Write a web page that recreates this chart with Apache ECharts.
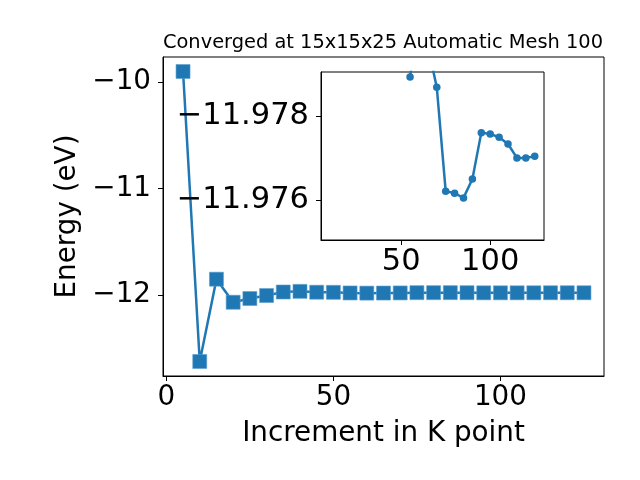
<!DOCTYPE html>
<html>
<head>
<meta charset="utf-8">
<script src="https://cdn.jsdelivr.net/npm/echarts@6/dist/echarts.min.js"></script>
<style>html,body{margin:0;padding:0;background:#fff}#c{width:640px;height:480px}</style>
</head>
<body>
<div id="c"></div>
<script>
// ---- data ----
const kPoints = [5,10,15,20,25,30,35,40,45,50,55,60,65,70,75,80,85,90,95,100,105,110,115,120,125];
const energy = [-9.904,-12.621,-11.850,-12.066,-12.031,-12.003,-11.970,-11.964,-11.972,-11.973,
  -11.97892,-11.9805,-11.97965,-11.97868,-11.97621,-11.97616,-11.97605,-11.97650,-11.97760,
  -11.97757,-11.97749,-11.97733,-11.97700,-11.97700,-11.97704];
const mainXTicks = [0,50,100];
const mainYTicks = [-12,-11,-10];
const insetXTicks = [50,100];
const insetYTicks = [-11.978,-11.976];
const insetStartIndex = 10; // inset zoom starts at 55
const titleText = 'Converged at 15x15x25 Automatic Mesh 100';
const xName = 'Increment in K point';
const yName = 'Energy (eV)';

const mainData = kPoints.map((x,i)=>[x, energy[i]]);
const insetData = kPoints.slice(insetStartIndex).map((x,i)=>[x, energy[i+insetStartIndex]]);

const FONT = 'DejaVu Sans';
const C = '#1f77b4';
const minus = s => String(s).replace('-', '\u2212');

const chart = echarts.init(document.getElementById('c'), null, {renderer:'canvas'});
const axisCommon = {
  axisLine:{show:true, onZero:false, lineStyle:{color:'#000', width:1}},
  axisTick:{show:true, inside:false, length:5, lineStyle:{color:'#000', width:1}},
  splitLine:{show:false},
};
chart.setOption({
  animation:false,
  backgroundColor:'#fff',
  title:{text:titleText, left:378, top:28, textAlign:'center',
    textStyle:{fontFamily:FONT, fontSize:19.4, fontWeight:'normal', color:'#000'}},
  grid:[
    {left:163, top:57, width:441, height:319, show:true, borderColor:'#000', borderWidth:1, backgroundColor:'#fff', outerBoundsMode:'none', containLabel:false},
    {left:321, top:72, width:223, height:168, show:true, borderColor:'#000', borderWidth:1, backgroundColor:'#fff', outerBoundsMode:'none', containLabel:false, z:3}
  ],
  xAxis:[
    Object.assign({}, axisCommon, {type:'value', gridIndex:0, min:-1, max:131,
      axisTick:Object.assign({}, axisCommon.axisTick, {customValues:mainXTicks}),
      axisLabel:{customValues:mainXTicks, margin:8, fontFamily:FONT, fontSize:27.8, color:'#000', formatter:v=>minus(v)},
      name:xName, nameLocation:'middle', nameGap:44,
      nameTextStyle:{fontFamily:FONT, fontSize:27.8, color:'#000'}}),
    Object.assign({}, axisCommon, {type:'value', gridIndex:1, min:5, max:130.2, z:5,
      axisTick:Object.assign({}, axisCommon.axisTick, {customValues:insetXTicks}),
      axisLabel:{customValues:insetXTicks, margin:7, fontFamily:FONT, fontSize:30.5, color:'#000', formatter:v=>minus(v)}})
  ],
  yAxis:[
    Object.assign({}, axisCommon, {type:'value', gridIndex:0, min:-12.757, max:-9.768,
      axisTick:Object.assign({}, axisCommon.axisTick, {customValues:mainYTicks}),
      axisLabel:{customValues:mainYTicks, margin:12, fontFamily:FONT, fontSize:27.8, color:'#000', formatter:v=>minus(v)},
      name:yName, nameLocation:'middle', nameGap:74,
      nameTextStyle:{fontFamily:FONT, fontSize:27.8, color:'#000'}}),
    Object.assign({}, axisCommon, {type:'value', gridIndex:1, inverse:true, min:-11.97904, max:-11.97505, z:5,
      axisTick:Object.assign({}, axisCommon.axisTick, {customValues:insetYTicks}),
      axisLabel:{customValues:insetYTicks, margin:12, fontFamily:FONT, fontSize:30.5, color:'#000', formatter:v=>minus(Number(v).toFixed(3))}})
  ],
  series:[
    {type:'line', xAxisIndex:0, yAxisIndex:0, data:mainData, symbol:'rect', symbolSize:14,
      showAllSymbol:true, clip:true,
      lineStyle:{color:C, width:2.5}, itemStyle:{color:C, borderColor:'#5a9fd0', borderWidth:0.6}},
    {type:'line', xAxisIndex:1, yAxisIndex:1, data:insetData, symbol:'circle', symbolSize:7.5,
      showAllSymbol:true, clip:true, z:4,
      lineStyle:{color:C, width:2.5}, itemStyle:{color:C, borderWidth:0}}
  ]
});
</script>
</body>
</html>
